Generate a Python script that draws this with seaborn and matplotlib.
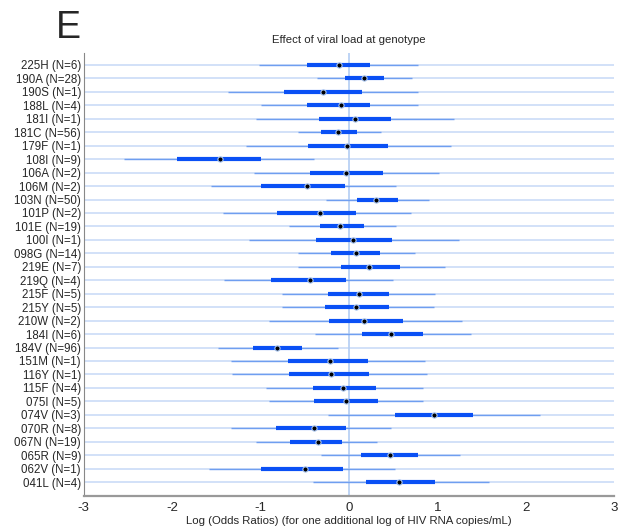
import matplotlib
matplotlib.use("Agg")
from matplotlib import pyplot as plt
import seaborn as sns
import pandas as pd

# genotype rows, top to bottom
genotypes = ["225H (N=6)", "190A (N=28)", "190S (N=1)", "188L (N=4)", "181I (N=1)",
             "181C (N=56)", "179F (N=1)", "108I (N=9)", "106A (N=2)", "106M (N=2)",
             "103N (N=50)", "101P (N=2)", "101E (N=19)", "100I (N=1)", "098G (N=14)",
             "219E (N=7)", "219Q (N=4)", "215F (N=5)", "215Y (N=5)", "210W (N=2)",
             "184I (N=6)", "184V (N=96)", "151M (N=1)", "116Y (N=1)", "115F (N=4)",
             "075I (N=5)", "074V (N=3)", "070R (N=8)", "067N (N=19)", "065R (N=9)",
             "062V (N=1)", "041L (N=4)"]

# median log odds ratio
median = [-0.11, 0.17, -0.29, -0.09, 0.07, -0.12, -0.02, -1.46, -0.03, -0.47,
          0.31, -0.33, -0.10, 0.05, 0.08, 0.23, -0.44, 0.11, 0.08, 0.17,
          0.47, -0.82, -0.21, -0.20, -0.07, -0.04, 0.96, -0.40, -0.35, 0.46,
          -0.50, 0.57]

# inner interval (thick bar)
inner_lo = [-0.48, -0.05, -0.74, -0.47, -0.34, -0.32, -0.46, -1.95, -0.44, -0.99,
            0.09, -0.81, -0.33, -0.37, -0.20, -0.09, -0.88, -0.24, -0.27, -0.23,
            0.15, -1.09, -0.69, -0.68, -0.41, -0.40, 0.52, -0.83, -0.67, 0.14,
            -1.00, 0.19]
inner_hi = [0.24, 0.40, 0.15, 0.24, 0.47, 0.09, 0.44, -1.00, 0.38, -0.05,
            0.55, 0.08, 0.17, 0.49, 0.35, 0.58, -0.04, 0.45, 0.45, 0.61,
            0.84, -0.53, 0.21, 0.22, 0.31, 0.33, 1.40, -0.04, -0.08, 0.78,
            -0.07, 0.97]

# outer interval (thin line)
outer_lo = [-1.02, -0.36, -1.37, -1.00, -1.05, -0.58, -1.16, -2.54, -1.08, -1.56,
            -0.26, -1.42, -0.68, -1.13, -0.58, -0.58, -1.41, -0.76, -0.76, -0.90,
            -0.39, -1.48, -1.34, -1.32, -0.94, -0.91, -0.24, -1.33, -1.05, -0.32,
            -1.58, -0.41]
outer_hi = [0.78, 0.71, 0.78, 0.78, 1.19, 0.36, 1.15, -0.40, 1.02, 0.53,
            0.90, 0.70, 0.53, 1.24, 0.74, 1.09, 0.50, 0.97, 0.96, 1.28,
            1.38, -0.12, 0.86, 0.88, 0.84, 0.84, 2.16, 0.47, 0.32, 1.25,
            0.52, 1.58]

x_ticks = [-3, -2, -1, 0, 1, 2, 3]

df = pd.DataFrame({"genotype": genotypes, "median": median,
                   "inner_lo": inner_lo, "inner_hi": inner_hi,
                   "outer_lo": outer_lo, "outer_hi": outer_hi})
df["row"] = range(len(df))

sns.set_style("white")
plt.rcParams["font.family"] = ["Liberation Sans", "DejaVu Sans"]

fig = plt.figure(figsize=(6.2, 5.3), dpi=100)
ax = fig.add_axes([0.135, 0.064, 0.856, 0.836])

# faint full-width line for each row
for r in df["row"]:
    ax.axhline(r, color="#c6d9f6", lw=1.1, zorder=1)

# zero line
ax.axvline(0, color="#b3cdf3", lw=1.2, zorder=1)

# outer and inner intervals
ax.hlines(df["row"], df["outer_lo"], df["outer_hi"], color="#6f9ef0", lw=1.0, zorder=2)
ax.hlines(df["row"], df["inner_lo"], df["inner_hi"], color="#0a50f5", lw=3.0, zorder=3)

# medians
sns.scatterplot(data=df, x="median", y="row", ax=ax, s=14, color="black",
                edgecolor="#a9c6f2", linewidth=0.8, zorder=4, legend=False)

ax.set_xlim(-3, 3)
ax.set_ylim(len(df) + 0.04, -0.89)
ax.set_xticks(x_ticks)
ax.set_xticklabels([str(t) for t in x_ticks], fontsize=9.5)
ax.set_yticks(df["row"])
ax.set_yticklabels(df["genotype"], fontsize=8.3)
ax.tick_params(axis="x", direction="in", length=3, color="#999999", pad=4)
ax.tick_params(axis="y", direction="in", length=3, color="#777777", pad=2)

for side in ["top", "right"]:
    ax.spines[side].set_visible(False)
ax.spines["left"].set_color("#888888")
ax.spines["left"].set_linewidth(0.8)
ax.spines["bottom"].set_color("#999999")
ax.spines["bottom"].set_linewidth(1.6)

ax.set_xlabel("Log (Odds Ratios) (for one additional log of HIV RNA copies/mL)",
              fontsize=8.2, labelpad=2)
ax.set_ylabel("")
ax.set_title("Effect of viral load at genotype", fontsize=8.2, pad=7)

fig.text(0.09, 0.928, "E", fontsize=27)

fig.savefig("out.png", dpi=100)
